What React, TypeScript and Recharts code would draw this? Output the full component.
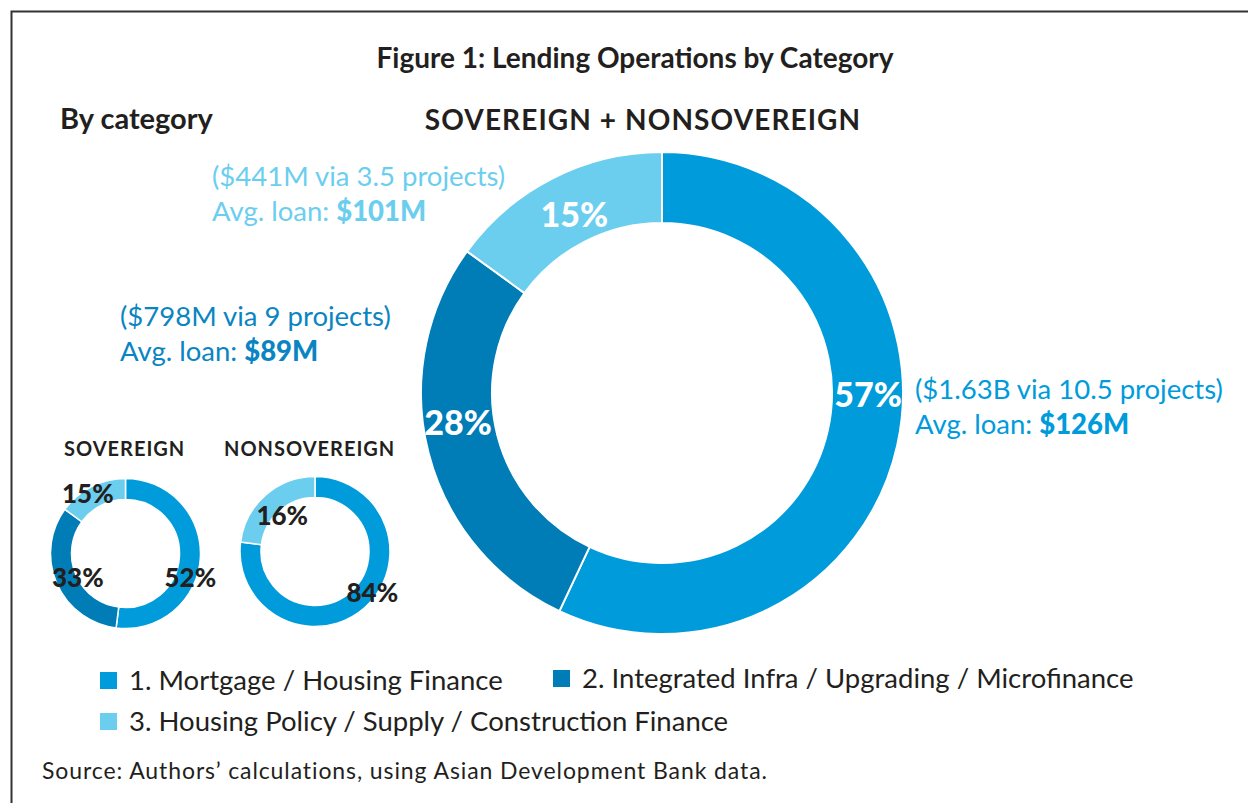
import { PieChart, Pie, Cell } from 'recharts';

const categories = [
  '1. Mortgage / Housing Finance',
  '2. Integrated Infra / Upgrading / Microfinance',
  '3. Housing Policy / Supply / Construction Finance',
];
const colors = ['#009BDB', '#007CB7', '#6CCEEE'];

// shares drawn in each donut (by category index)
const totalShares = [57, 28, 15];
const totalLabels = ['57%', '28%', '15%'];
const sovereignShares = [52, 33, 15];
const sovereignLabels = ['52%', '33%', '15%'];
const nonsovCats = [0, 2];
const nonsovShares = [77, 23];
const nonsovLabels = ['84%', '16%'];

const notes = [
  { text: '($1.63B via 10.5 projects)', avg: '$126M' },
  { text: '($798M via 9 projects)', avg: '$89M' },
  { text: '($441M via 3.5 projects)', avg: '$101M' },
];

const FONT = 'Lato, "Open Sans", sans-serif';
const INK = '#231F20';

const totalData = totalShares.map((v, i) => ({ name: categories[i], value: v, label: totalLabels[i], color: colors[i] }));
const sovData = sovereignShares.map((v, i) => ({ name: categories[i], value: v, label: sovereignLabels[i], color: colors[i] }));
const nonsovData = nonsovShares.map((v, i) => ({
  name: categories[nonsovCats[i]],
  value: v,
  label: nonsovLabels[i],
  color: colors[nonsovCats[i]],
}));

// label placement: [degrees clockwise from 12 o'clock, radius]
function makeLabel(places: number[][], fill: string, size: number) {
  return (p: any) => {
    const [a, r] = places[p.index];
    const rad = (a * Math.PI) / 180;
    const x = p.cx + r * Math.sin(rad);
    const y = p.cy - r * Math.cos(rad);
    return (
      <text
        x={x}
        y={y}
        fill={fill}
        textAnchor="middle"
        dominantBaseline="central"
        fontFamily={FONT}
        fontWeight={900}
        fontSize={size}
      >
        {p.payload.label}
      </text>
    );
  };
}

export default function App() {
  return (
    <div style={{ position: 'absolute', left: 0, top: 0, width: 1248, height: 803, background: '#fff', overflow: 'hidden' }}>
      <PieChart
        width={1248}
        height={803}
        margin={{ top: 0, right: 0, bottom: 0, left: 0 }}
        style={{ position: 'absolute', left: 0, top: 0 }}
      >
        <Pie
          data={totalData}
          dataKey="value"
          cx={662}
          cy={393}
          innerRadius={170}
          outerRadius={241}
          startAngle={90}
          endAngle={-270}
          stroke="#fff"
          strokeWidth={2}
          labelLine={false}
          label={makeLabel([[90, 206], [262, 206], [334, 200]], '#fff', 34)}
          isAnimationActive={false}
        >
          {totalData.map((d) => (
            <Cell key={d.name} fill={d.color} />
          ))}
        </Pie>
        <Pie
          data={sovData}
          dataKey="value"
          cx={125.5}
          cy={553.5}
          innerRadius={54}
          outerRadius={75}
          startAngle={90}
          endAngle={-270}
          stroke="#fff"
          strokeWidth={1.5}
          labelLine={false}
          label={makeLabel([[110, 69], [244, 53], [328, 71]], INK, 26)}
          isAnimationActive={false}
        >
          {sovData.map((d) => (
            <Cell key={d.name} fill={d.color} />
          ))}
        </Pie>
        <Pie
          data={nonsovData}
          dataKey="value"
          cx={315}
          cy={551.5}
          innerRadius={54}
          outerRadius={75}
          startAngle={90}
          endAngle={-270}
          stroke="#fff"
          strokeWidth={1.5}
          labelLine={false}
          label={makeLabel([[125, 70], [318, 49]], INK, 26)}
          isAnimationActive={false}
        >
          {nonsovData.map((d) => (
            <Cell key={d.name} fill={d.color} />
          ))}
        </Pie>
      </PieChart>

      <svg width={1248} height={803} style={{ position: 'absolute', left: 0, top: 0, pointerEvents: 'none' }} fontFamily={FONT}>
        <path d="M11.5 803 V11.5 H1248" fill="none" stroke="#333" strokeWidth={2} />
        <text x={635} y={68} textAnchor="middle" fontWeight={700} fontSize={28} fill={INK}>
          Figure 1: Lending Operations by Category
        </text>
        <text x={60} y={129} fontWeight={700} fontSize={29} fill={INK}>
          By category
        </text>
        <text x={643} y={130} textAnchor="middle" fontWeight={700} fontSize={28} letterSpacing={1.1} fill={INK}>
          SOVEREIGN + NONSOVEREIGN
        </text>
        <text x={64} y={456} fontWeight={700} fontSize={20} letterSpacing={1} fill={INK}>
          SOVEREIGN
        </text>
        <text x={224} y={456} fontWeight={700} fontSize={20} letterSpacing={1} fill={INK}>
          NONSOVEREIGN
        </text>

        {[
          { x: 915, y: 399, c: colors[0], n: notes[0] },
          { x: 120, y: 326, c: '#0A85C2', n: notes[1] },
          { x: 212, y: 186, c: colors[2], n: notes[2] },
        ].map((a) => (
          <g key={a.n.text} fill={a.c} fontSize={27.5}>
            <text x={a.x} y={a.y}>{a.n.text}</text>
            <text x={a.x} y={a.y + 35}>
              Avg. loan: <tspan fontWeight={900}>{a.n.avg}</tspan>
            </text>
          </g>
        ))}

        {[
          { x: 100, y: 672, i: 0 },
          { x: 553, y: 670, i: 1 },
          { x: 100, y: 713, i: 2 },
        ].map((l) => (
          <g key={l.i}>
            <rect x={l.x} y={l.y} width={17} height={17} fill={colors[l.i]} />
            <text x={l.x + 29} y={l.y + 18} fontSize={27.5} fill={INK}>
              {categories[l.i]}
            </text>
          </g>
        ))}

        <text x={42} y={779} fontSize={23} letterSpacing={0.9} fill={INK}>
          Source: Authors’ calculations, using Asian Development Bank data.
        </text>
      </svg>
    </div>
  );
}
